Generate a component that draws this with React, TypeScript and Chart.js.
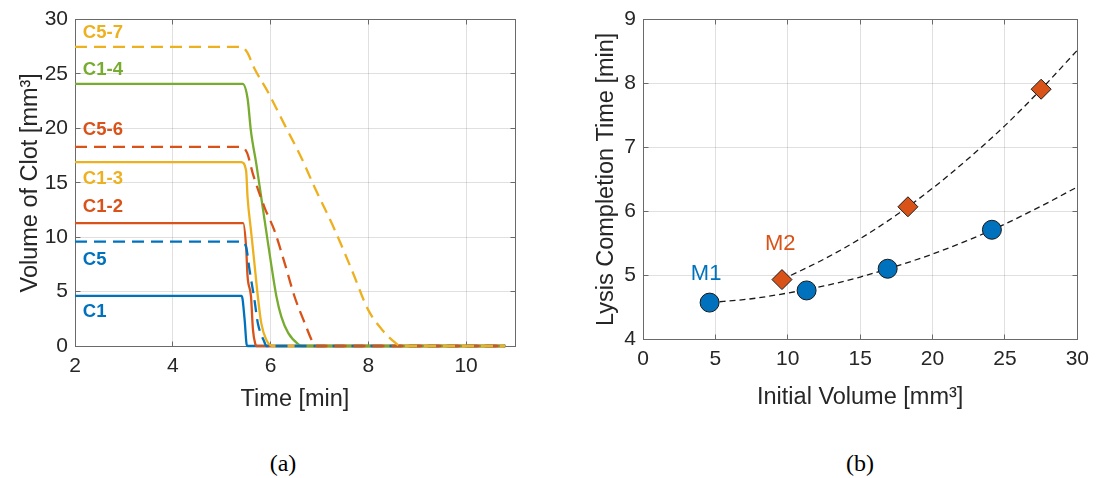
import React, { useEffect, useRef } from 'react';
import { Chart, registerables } from 'chart.js';

Chart.register(...registerables);

const FONT = '"Liberation Sans", Arial, Helvetica, sans-serif';
const TEXT = '#262626';
const AXIS = '#6a6a6a';
const GRID = 'rgba(38,38,38,0.14)';
const BLUE = '#0072BD';
const RED = '#D95319';
const YELLOW = '#EDB120';
const GREEN = '#77AC30';

// ---- Panel (a): clot volume vs. time ----
const c1Time = [2, 5.41, 5.47, 5.51, 5.53, 10.8];
const c1Vol = [4.6, 4.6, 2.4, 0.15, 0, 0];

const c12Time = [2, 5.44, 5.5, 5.53, 5.6, 5.64, 5.69, 5.71, 10.8];
const c12Vol = [11.3, 11.3, 9.1, 6.4, 4.55, 1.5, 0.15, 0, 0];

const c13Time = [2, 5.4, 5.5, 5.53, 5.6, 5.67, 5.74, 5.81, 5.91, 6.05, 10.8];
const c13Vol = [16.9, 16.9, 16.1, 13.65, 10.6, 7.6, 4.55, 2.1, 0.6, 0, 0];

const c14Time = [2, 5.43, 5.53, 5.6, 5.71, 5.81, 5.91, 6.01, 6.12, 6.22, 6.36, 6.57, 6.64, 10.8];
const c14Vol = [24.1, 24.1, 22.75, 19.7, 16.7, 13.65, 10.6, 7.6, 4.55, 2.7, 1.2, 0.15, 0, 0];

const c5Time = [2, 5.4, 5.5, 5.57, 5.67, 5.74, 5.88, 5.91, 10.8];
const c5Vol = [9.6, 9.6, 9.1, 7.0, 4.25, 2.1, 0.3, 0, 0];

const c56Time = [2, 5.4, 5.52, 5.64, 5.88, 6.08, 6.29, 6.49, 6.7, 6.87, 6.94, 10.8];
const c56Vol = [18.3, 18.3, 17.75, 15.8, 12.7, 10.6, 7.6, 4.55, 2.1, 0.3, 0, 0];

const c57Time = [2, 5.4, 5.52, 5.67, 5.94, 6.29, 6.63, 6.9, 7.32, 7.66, 8.0, 8.28, 8.55, 8.65, 10.8];
const c57Vol = [27.5, 27.5, 27.0, 25.5, 23.4, 20.3, 17.3, 14.6, 10.6, 7.0, 3.3, 1.5, 0.3, 0, 0];

const timeTicks = [2, 4, 6, 8, 10];
const volumeTicks = [0, 5, 10, 15, 20, 25, 30];

// curve name tags, anchored in data coordinates
const curveNames = ['C5-7', 'C1-4', 'C5-6', 'C1-3', 'C1-2', 'C5', 'C1'];
const curveNameColors = [YELLOW, GREEN, RED, YELLOW, RED, BLUE, BLUE];
const curveNameX = [2.16, 2.16, 2.16, 2.16, 2.16, 2.16, 2.16];
const curveNameY = [28.8, 25.4, 19.9, 15.4, 12.8, 7.95, 3.1];

// ---- Panel (b): lysis completion time vs. initial volume ----
const m1Volume = [4.6, 11.3, 16.9, 24.1];
const m1Time = [4.57, 4.76, 5.1, 5.71];
const m2Volume = [9.6, 18.3, 27.5];
const m2Time = [4.93, 6.07, 7.91];

const m1FitX = [4.6, 7.5, 10, 12.5, 15, 17.5, 20, 22.5, 25, 27.5, 30];
const m1FitY = [4.57, 4.63, 4.72, 4.83, 4.97, 5.14, 5.33, 5.55, 5.8, 6.08, 6.38];
const m2FitX = [9.6, 12.5, 15, 17.5, 20, 22.5, 25, 27.5, 30];
const m2FitY = [4.93, 5.25, 5.57, 5.94, 6.36, 6.83, 7.34, 7.91, 8.52];

const groupNames = ['M1', 'M2'];
const groupColors = [BLUE, RED];
const groupNameX = [4.36, 9.48];
const groupNameY = [5.02, 5.49];

const pts = (xs: number[], ys: number[]) => xs.map((x, i) => ({ x, y: ys[i] }));
const align = (p: number) => Math.round(p - 0.5) + 0.5;

// Full box around the plot area with inward tick marks on all four sides
const boxPlugin = {
  id: 'matlabBox',
  beforeDatasetsDraw(chart: any) {
    const { ctx, chartArea: a, scales } = chart;
    const L = align(a.left), R = align(a.right), T = align(a.top), B = align(a.bottom);
    ctx.save();
    ctx.strokeStyle = AXIS;
    ctx.lineWidth = 1;
    ctx.strokeRect(L, T, R - L, B - T);
    const len = 5;
    ctx.beginPath();
    for (const t of scales.x.ticks) {
      const px = align(scales.x.getPixelForValue(t.value));
      ctx.moveTo(px, B); ctx.lineTo(px, B - len);
      ctx.moveTo(px, T); ctx.lineTo(px, T + len);
    }
    for (const t of scales.y.ticks) {
      const py = align(scales.y.getPixelForValue(t.value));
      ctx.moveTo(L, py); ctx.lineTo(L + len, py);
      ctx.moveTo(R, py); ctx.lineTo(R - len, py);
    }
    ctx.stroke();
    ctx.restore();
  },
};

function makeTagPlugin(id: string, names: string[], colors: string[], xs: number[], ys: number[], font: string) {
  return {
    id,
    afterDatasetsDraw(chart: any) {
      const { ctx, scales } = chart;
      ctx.save();
      ctx.font = font;
      ctx.textBaseline = 'middle';
      ctx.textAlign = id === 'curveTags' ? 'left' : 'center';
      names.forEach((n, i) => {
        ctx.fillStyle = colors[i];
        ctx.fillText(n, scales.x.getPixelForValue(xs[i]), scales.y.getPixelForValue(ys[i]));
      });
      ctx.restore();
    },
  };
}

const tickFont = { family: FONT, size: 21 };
const titleFont = { family: FONT, size: 23.5 };

function VolumeChart() {
  const ref = useRef<HTMLCanvasElement>(null);
  useEffect(() => {
    const series = [
      { label: 'C1', t: c1Time, v: c1Vol, color: BLUE, dash: [] as number[] },
      { label: 'C1-2', t: c12Time, v: c12Vol, color: RED, dash: [] },
      { label: 'C1-3', t: c13Time, v: c13Vol, color: YELLOW, dash: [] },
      { label: 'C1-4', t: c14Time, v: c14Vol, color: GREEN, dash: [] },
      { label: 'C5', t: c5Time, v: c5Vol, color: BLUE, dash: [12, 7] },
      { label: 'C5-6', t: c56Time, v: c56Vol, color: RED, dash: [12, 7] },
      { label: 'C5-7', t: c57Time, v: c57Vol, color: YELLOW, dash: [12, 7] },
    ];
    const chart = new Chart(ref.current!, {
      type: 'line',
      data: {
        datasets: series.map((s, i) => ({
          label: s.label,
          data: pts(s.t, s.v),
          borderColor: s.color,
          borderWidth: 2.3,
          borderDash: s.dash,
          pointRadius: 0,
          cubicInterpolationMode: 'monotone' as const,
          fill: false,
          clip: 4,
          order: series.length - i,
        })),
      },
      options: {
        responsive: false,
        animation: false,
        devicePixelRatio: 1,
        layout: { padding: { left: 0, top: 17, right: 25, bottom: 0 } },
        plugins: { legend: { display: false }, tooltip: { enabled: false } },
        scales: {
          x: {
            type: 'linear',
            min: 2,
            max: 11,
            afterFit: (s: any) => { s.height = 84; },
            afterBuildTicks: (s: any) => { s.ticks = timeTicks.map((value) => ({ value })); },
            ticks: { font: tickFont, color: TEXT, padding: 8, maxRotation: 0 },
            grid: { color: GRID, drawTicks: false },
            border: { display: false },
            title: { display: true, text: 'Time [min]', font: titleFont, color: TEXT, padding: { top: 0, bottom: 16 } },
          },
          y: {
            type: 'linear',
            min: 0,
            max: 30,
            afterFit: (s: any) => { s.width = 75; },
            afterBuildTicks: (s: any) => { s.ticks = volumeTicks.map((value) => ({ value })); },
            ticks: { font: tickFont, color: TEXT, padding: 7 },
            grid: { color: GRID, drawTicks: false },
            border: { display: false },
            title: { display: true, text: 'Volume of Clot [mm³]', font: titleFont, color: TEXT, padding: { top: 16, bottom: 0 } },
          },
        },
      },
      plugins: [
        boxPlugin,
        makeTagPlugin('curveTags', curveNames, curveNameColors, curveNameX, curveNameY, `bold 18.5px ${FONT}`),
      ],
    } as any);
    return () => chart.destroy();
  }, []);
  return <canvas ref={ref} width={540} height={430} style={{ position: 'absolute', left: 0, top: 0 }} />;
}

function LysisChart() {
  const ref = useRef<HTMLCanvasElement>(null);
  useEffect(() => {
    const chart = new Chart(ref.current!, {
      type: 'scatter',
      data: {
        datasets: [
          {
            label: 'M2',
            data: pts(m2Volume, m2Time),
            pointStyle: 'rectRot',
            pointRadius: 10,
            backgroundColor: RED,
            borderColor: '#1a1a1a',
            borderWidth: 1,
          },
          {
            label: 'M1',
            data: pts(m1Volume, m1Time),
            pointStyle: 'circle',
            pointRadius: 9.5,
            backgroundColor: BLUE,
            borderColor: '#1a1a1a',
            borderWidth: 1,
          },
          {
            label: 'M2 fit',
            data: pts(m2FitX, m2FitY),
            showLine: true,
            pointRadius: 0,
            borderColor: '#1a1a1a',
            borderWidth: 1.3,
            borderDash: [6, 4],
            cubicInterpolationMode: 'monotone',
          },
          {
            label: 'M1 fit',
            data: pts(m1FitX, m1FitY),
            showLine: true,
            pointRadius: 0,
            borderColor: '#1a1a1a',
            borderWidth: 1.3,
            borderDash: [6, 4],
            cubicInterpolationMode: 'monotone',
          },
        ],
      },
      options: {
        responsive: false,
        animation: false,
        devicePixelRatio: 1,
        layout: { padding: { left: 0, top: 17, right: 14, bottom: 0 } },
        plugins: { legend: { display: false }, tooltip: { enabled: false } },
        scales: {
          x: {
            type: 'linear',
            min: 0,
            max: 30,
            afterFit: (s: any) => { s.height = 91; },
            ticks: { font: tickFont, color: TEXT, padding: 8, stepSize: 5, maxRotation: 0 },
            grid: { color: GRID, drawTicks: false },
            border: { display: false },
            title: { display: true, text: 'Initial Volume [mm³]', font: titleFont, color: TEXT, padding: { top: 0, bottom: 18 } },
          },
          y: {
            type: 'linear',
            min: 4,
            max: 9,
            afterFit: (s: any) => { s.width = 83; },
            ticks: { font: tickFont, color: TEXT, padding: 7, stepSize: 1 },
            grid: { color: GRID, drawTicks: false },
            border: { display: false },
            title: { display: true, text: 'Lysis Completion Time [min]', font: titleFont, color: TEXT, padding: { top: 32, bottom: 0 } },
          },
        },
      },
      plugins: [
        boxPlugin,
        makeTagPlugin('groupTags', groupNames, groupColors, groupNameX, groupNameY, `22px ${FONT}`),
      ],
    } as any);
    return () => chart.destroy();
  }, []);
  return <canvas ref={ref} width={537} height={430} style={{ position: 'absolute', left: 560, top: 0 }} />;
}

const captionStyle: React.CSSProperties = {
  position: 'absolute',
  top: 447,
  width: 60,
  textAlign: 'center',
  fontFamily: '"Liberation Serif", "Times New Roman", serif',
  fontSize: 24,
  lineHeight: '32px',
  color: '#000',
};

export default function App() {
  return (
    <div style={{ position: 'absolute', left: 0, top: 0, width: 1097, height: 478, background: '#fff', overflow: 'hidden' }}>
      <VolumeChart />
      <LysisChart />
      <div style={{ ...captionStyle, left: 283 - 30 }}>(a)</div>
      <div style={{ ...captionStyle, left: 860 - 30 }}>(b)</div>
    </div>
  );
}
